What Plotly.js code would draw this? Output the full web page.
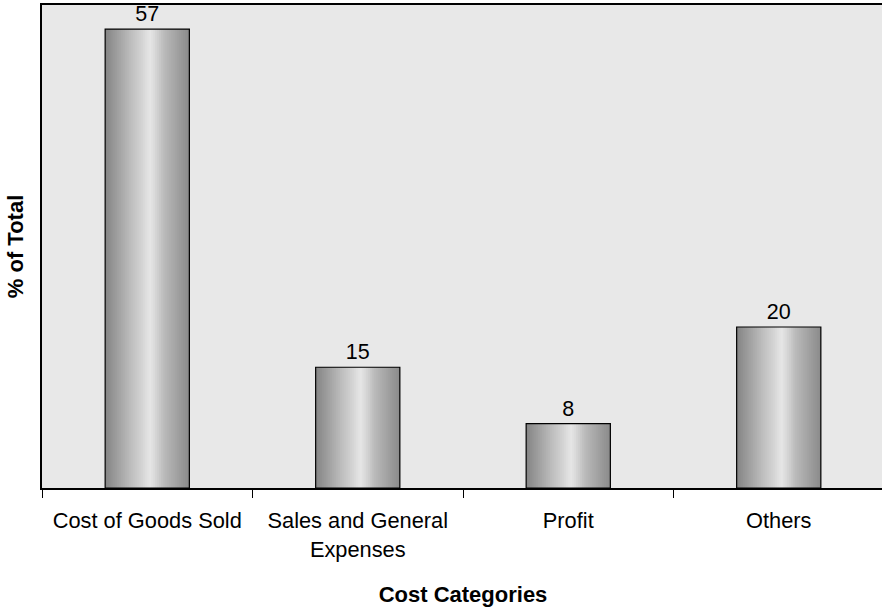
<!DOCTYPE html>
<html>
<head>
<meta charset="utf-8">
<script src="https://cdn.plot.ly/plotly-3.0.1.min.js"></script>
<style>
html,body{margin:0;padding:0;background:#fff;overflow:hidden;}
#chart{width:884px;height:607px;}
</style>
</head>
<body>
<div id="chart"></div>
<script>
// Data
var categories = ["Cost of Goods Sold", "Sales and General<br>Expenses", "Profit", "Others"];
var values = [57, 15, 8, 20];
var valueLabels = ["57", "15", "8", "20"];

// Styling: metallic gradient profile (position across bar, gray level)
var gradStops = [[0,0x84],[0.15,0xa0],[0.3,0xbc],[0.45,0xd6],[0.53,0xe6],[0.58,0xdc],[0.7,0xba],[0.85,0xa2],[1.0,0x8a]];
function grayAt(t){
  for (var k=1;k<gradStops.length;k++){
    if (t<=gradStops[k][0]){
      var a=gradStops[k-1], b=gradStops[k];
      var f=(t-a[0])/(b[0]-a[0]);
      return Math.round(a[1]+(b[1]-a[1])*f);
    }
  }
  return gradStops[gradStops.length-1][1];
}

var barWidth = 0.4;
var N = 42;
var traces = [];
for (var i=0;i<N;i++){
  var t = (i+0.5)/N;
  var g = grayAt(t);
  var start = -barWidth/2 + i*barWidth/N;
  traces.push({
    type:'bar', x:categories, y:values,
    width: barWidth - i*barWidth/N,
    offset: start,
    marker:{color:'rgb('+g+','+g+','+g+')', line:{width:0}},
    hoverinfo:'skip', showlegend:false
  });
}
// outline + labels
traces.push({
  type:'bar', x:categories, y:values,
  width: barWidth, offset: -barWidth/2,
  marker:{color:'rgba(0,0,0,0)', line:{color:'#000', width:1.2}},
  text: valueLabels, textposition:'outside',
  textfont:{family:'Liberation Sans, Arial, sans-serif', size:21.5, color:'#000'},
  cliponaxis:false, hoverinfo:'skip', showlegend:false
});

var layout = {
  width:884, height:607,
  margin:{l:42, r:0, t:5, b:119},
  paper_bgcolor:'#ffffff',
  plot_bgcolor:'#e8e8e8',
  barmode:'overlay',
  font:{family:'Liberation Sans, Arial, sans-serif', size:21, color:'#000'},
  showlegend:false,
  hovermode:false,
  xaxis:{
    type:'category',
    showline:true, linecolor:'#000', linewidth:2, mirror:true,
    ticks:'outside', tickson:'boundaries', ticklen:8, tickcolor:'#000', tickwidth:1,
    showgrid:false, zeroline:false,
    ticklabelstandoff:12,
    tickfont:{size:21.8},
    title:{text:'<b>Cost Categories</b>', font:{size:22}, standoff:30}
  },
  yaxis:{
    range:[0,60],
    showline:true, linecolor:'#000', linewidth:2,
    showticklabels:false, ticks:'', showgrid:false, zeroline:false,
    title:{text:'<b>% of Total</b>', font:{size:22}, standoff:10}
  }
};

Plotly.newPlot('chart', traces, layout, {displayModeBar:false, staticPlot:true});
</script>
</body>
</html>
